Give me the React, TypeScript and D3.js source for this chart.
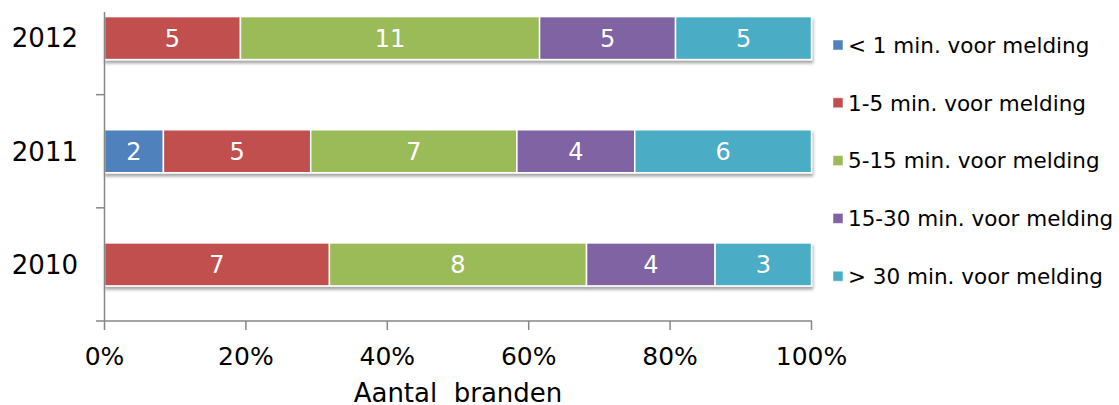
import React from "react";
import * as d3 from "d3";

const years = ["2012", "2011", "2010"];
const seriesNames = [
  "< 1 min. voor melding",
  "1-5 min. voor melding",
  "5-15 min. voor melding",
  "15-30 min. voor melding",
  "> 30 min. voor melding",
];
const colors = ["#4F81BD", "#C0504D", "#9BBB59", "#8064A2", "#4BACC6"];
// values per year, in series order
const v2012 = [0, 5, 11, 5, 5];
const v2011 = [2, 5, 7, 4, 6];
const v2010 = [0, 7, 8, 4, 3];
const xTicks = [0, 0.2, 0.4, 0.6, 0.8, 1];
const xTitle = "Aantal  branden";

const W = 1119;
const H = 405;
const FONT = "'DejaVu Sans', Verdana, sans-serif";

export default function App() {
  const valuesByYear: Record<string, number[]> = { "2012": v2012, "2011": v2011, "2010": v2010 };
  const x = d3.scaleLinear().domain([0, 1]).range([104.5, 811.5]);
  const yOuter = d3.scaleBand().domain(years).range([-18.5, 321]);
  const y = d3.scaleBand().domain(years).range([-18.5, 321]).paddingInner(0.62).paddingOuter(0.31);

  const rows = years.map((yr) => {
    const vals = valuesByYear[yr];
    const total = d3.sum(vals);
    let acc = 0;
    const segs = vals.map((v, i) => {
      const s = { i, v, x0: acc / total, x1: (acc + v) / total };
      acc += v;
      return s;
    });
    return { yr, segs };
  });

  const axisColor = "#878787";
  const bandEdges = years.map((yr) => (yOuter(yr) as number) + yOuter.step());

  return (
    <svg width={W} height={H} style={{ position: "absolute", left: 0, top: 0 }} fontFamily={FONT}>
      <defs>
        <filter id="sh" x="-5%" y="-30%" width="110%" height="180%">
          <feDropShadow dx="1" dy="3" stdDeviation="1.6" floodColor="#000" floodOpacity="0.35" />
        </filter>
      </defs>
      <rect x={0} y={0} width={W} height={H} fill="#fff" />
      {/* bars */}
      {rows.map((r) => (
        <g key={r.yr} filter="url(#sh)">
          {r.segs
            .filter((s) => s.v > 0)
            .map((s) => (
              <rect
                key={s.i}
                x={x(s.x0)}
                y={y(r.yr)}
                width={x(s.x1) - x(s.x0)}
                height={y.bandwidth()}
                fill={colors[s.i]}
                stroke="#fff"
                strokeWidth={1.5}
              />
            ))}
        </g>
      ))}
      {rows.map((r) =>
        r.segs
          .filter((s) => s.v > 0)
          .map((s) => (
            <text
              key={r.yr + s.i}
              x={(x(s.x0) + x(s.x1)) / 2}
              y={(y(r.yr) as number) + y.bandwidth() / 2}
              dy="0.36em"
              textAnchor="middle"
              fill="#fff"
              fontSize={24}
            >
              {s.v}
            </text>
          ))
      )}
      {/* y axis */}
      <line x1={104.5} x2={104.5} y1={12} y2={321} stroke={axisColor} strokeWidth={1.5} />
      {bandEdges.map((e, i) => (
        <line key={i} x1={96} x2={104.5} y1={e} y2={e} stroke={axisColor} strokeWidth={1.5} />
      ))}
      {years.map((yr) => (
        <text
          key={yr}
          x={78}
          y={(y(yr) as number) + y.bandwidth() / 2}
          dy="0.36em"
          textAnchor="end"
          fontSize={26}
          fill="#000"
        >
          {yr}
        </text>
      ))}
      {/* x axis */}
      <line x1={104} x2={812} y1={321} y2={321} stroke={axisColor} strokeWidth={1.5} />
      {xTicks.map((t) => (
        <g key={t}>
          <line x1={x(t)} x2={x(t)} y1={321} y2={330} stroke={axisColor} strokeWidth={1.5} />
          <text x={x(t)} y={365} textAnchor="middle" fontSize={25} fill="#000">
            {d3.format(".0%")(t)}
          </text>
        </g>
      ))}
      <text x={458} y={402} textAnchor="middle" fontSize={26} fill="#000" style={{ whiteSpace: "pre" }}>
        {xTitle}
      </text>
      {/* legend */}
      {seriesNames.map((n, i) => {
        const cy = 45 + i * 57.8;
        return (
          <g key={n}>
            <rect x={833} y={cy - 5} width={10} height={10} fill={colors[i]} stroke="#fff" strokeOpacity={0.5} strokeWidth={1} />
            <text x={848} y={cy} dy="0.36em" fontSize={21.5} fill="#000" style={{ whiteSpace: "pre" }}>
              {n}
            </text>
          </g>
        );
      })}
    </svg>
  );
}
